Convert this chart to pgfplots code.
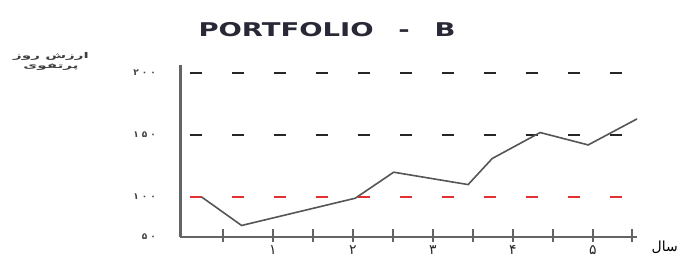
\documentclass[border=0pt]{standalone}
\usepackage{fontspec}
\usepackage{graphicx}
\usepackage{pgfplots}
\pgfplotsset{compat=1.18}
\setmainfont{DejaVu Sans}
\newfontfamily\persian[Script=Arabic]{DejaVu Sans}
\newfontfamily\persianwide[Script=Arabic,LetterSpace=35]{DejaVu Sans}
\TeXXeTstate=1
\definecolor{axgray}{RGB}{100,100,100}
\definecolor{linegray}{RGB}{85,85,85}
\definecolor{redd}{RGB}{228,48,48}
\definecolor{titlec}{RGB}{40,40,55}
\begin{document}
\begin{tikzpicture}[x=1bp,y=1bp]
\useasboundingbox (0,0) rectangle (679,259);
\begin{axis}[
  at={(180bp,22bp)}, anchor=south west,
  scale only axis, width=457bp, height=172bp,
  xmin=-0.16, xmax=5.55, ymin=67.7, ymax=206.5,
  axis x line=bottom, axis y line=left,
  x axis line style={-, draw=axgray, line width=2bp},
  y axis line style={-, draw=axgray, line width=3bp},
  xtick={0.375,1,1.5,2,2.5,3,3.5,4,4.5,5,5.49},
  xticklabels={{},۱,{},۲,{},۳,{},۴,{},۵,{}},
  xtick style={draw=axgray, line width=2.5bp, yshift=2bp},
  xtick align=center, major tick length=13bp,
  xticklabel style={font=\persian\fontsize{14}{14}\selectfont, yshift=1bp, text=black!85},
  ytick={67.7,100,150,200},
  yticklabels={۵۰,۱۰۰,۱۵۰,۲۰۰},
  ytick style={draw=none},
  yticklabel style={font=\persianwide\bfseries\fontsize{9}{9}\selectfont, anchor=east, xshift=-14bp, text=black!75},
  clip=false,
]
\addplot[redd, line width=1.5bp, dash pattern=on 12bp off 30bp] coordinates {(-0.04,100) (5.49,100)};
\addplot[black!85, line width=1.3bp, dash pattern=on 12bp off 30bp] coordinates {(-0.04,150) (5.49,150)};
\addplot[black!85, line width=1.3bp, dash pattern=on 12bp off 30bp] coordinates {(-0.04,200) (5.49,200)};
\addplot[linegray, line width=1.6bp] coordinates {
 (0.11,100) (0.61,77) (2.03,99) (2.51,120) (3.44,110) (3.74,131) (4.34,152) (4.94,142) (5.55,163)};
\end{axis}
\node[titlec] at (327,229) {\scalebox{1.45}[1]{\fontsize{19}{19}\selectfont\bfseries PORTFOLIO\hspace{0.9em}-\hspace{0.9em}B}};
\node[anchor=east, inner sep=0pt] at (678,12) {\persian\fontsize{14}{14}\selectfont\beginR سال\endR};
\node[align=center, inner sep=0pt, font=\persian\bfseries\fontsize{8}{10}\selectfont, text=black!75] at (51,198) {\scalebox{1.9}[1]{\beginR ارزش روز\endR}\\[0bp]\scalebox{1.9}[1]{\beginR پرتفوی\endR}};
\end{tikzpicture}
\end{document}
